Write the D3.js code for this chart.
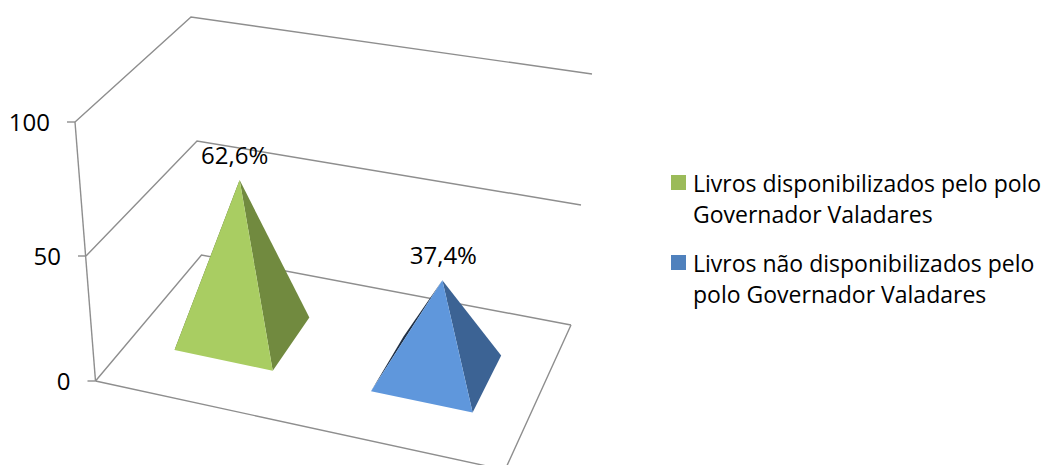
<!DOCTYPE html>
<html>
<head>
<meta charset="utf-8">
<script src="https://cdn.jsdelivr.net/npm/d3@7"></script>
<style>
html, body { margin: 0; padding: 0; background: #fff; overflow: hidden; }
svg { display: block; }
text { font-family: "Open Sans", sans-serif; fill: #000; }
</style>
</head>
<body>
<svg></svg>
<script>
const categories = ["Livros disponibilizados pelo polo Governador Valadares", "Livros não disponibilizados pelo polo Governador Valadares"];
const values = [62.6, 37.4];
const valueLabels = ["62,6%", "37,4%"];
const tickValues = [0, 50, 100];
const legendLines = [
	["Livros disponibilizados pelo polo", "Governador Valadares"],
	["Livros não disponibilizados pelo", "polo Governador Valadares"]
];

var svgWidth = 1046, svgHeight = 465;

var svg = d3.select("svg")
	.attr("width", svgWidth)
	.attr("height", svgHeight);

// the 3d box: where the value axis lands on each of the 4 upright edges
var edge = {
	frontLeft: { x: [95.5, 86, 75], y: [381, 256, 122] },
	backLeft: { x: [201.5, 197, 191], y: [255, 141, 17] },
	backRight: { x: [571, 581, 592], y: [325, 205, 74] },
	frontRight: { x: [505, 519, 533], y: [470, 335, 190] }
};

function edgeScale(range) {
	return d3.scaleLinear().domain(tickValues).range(range);
}

for (var k in edge) {
	edge[k].sx = edgeScale(edge[k].x);
	edge[k].sy = edgeScale(edge[k].y);
}

// u runs along the categories, d runs front to back
var u = d3.scaleBand()
	.domain(categories)
	.range([-0.01, 0.98])
	.paddingInner(0.5)
	.paddingOuter(0.25);

var d = d3.scaleLinear().domain([0, 1]).range([0.32, 0.72]);

// things further right come out a bit wider in the perspective
var warp = d3.scaleLinear().domain([0, 0.6, 0.86, 1]).range([0, 0.6, 0.869, 1]);

function project(uu, dd, v) {
	var lx = d3.interpolateNumber(edge.frontLeft.sx(v), edge.backLeft.sx(v))(dd);
	var ly = d3.interpolateNumber(edge.frontLeft.sy(v), edge.backLeft.sy(v))(dd);
	var rx = d3.interpolateNumber(edge.frontRight.sx(v), edge.backRight.sx(v))(dd);
	var ry = d3.interpolateNumber(edge.frontRight.sy(v), edge.backRight.sy(v))(dd);
	var w = warp(uu);
	return [lx + (rx - lx) * w, ly + (ry - ly) * w];
}

var line = d3.line();
var gridColor = "#8e8e8e";

var grid = svg.append("g")
	.attr("fill", "none")
	.attr("stroke", gridColor)
	.attr("stroke-width", 1.4);

// gridlines on left wall and back wall
tickValues.forEach(function(t) {
	grid.append("path").attr("d", line([
		project(0, 0, t),
		project(0, 1, t),
		project(1, 1, t)
	]));
	// tick mark
	var p = project(0, 0, t);
	grid.append("path").attr("d", line([[p[0] - 8, p[1]], p]));
});

// front and right floor edges, and the axis line
grid.append("path").attr("d", line([project(0, 0, 0), project(1, 0, 0), project(1, 1, 0)]));
grid.append("path").attr("d", line([project(0, 0, 0), project(0, 0, 100)]));

var axisLabels = svg.append("g")
	.attr("font-size", 24)
	.attr("text-anchor", "end");

tickValues.forEach(function(t) {
	var p = project(0, 0, t);
	axisLabels.append("text")
		.attr("x", p[0] - 25)
		.attr("y", p[1] + 9)
		.text(t);
});

var colors = [
	{ front: "#a9cd62", side: "#718a3f", dark: "#4f612c" },
	{ front: "#5f97dc", side: "#3c6394", dark: "#1f2f45" }
];

var pyramids = svg.append("g")
	.selectAll("g")
	.data(categories)
	.join("g");

pyramids.each(function(c, i) {
	var g = d3.select(this);
	var u0 = u(c), u1 = u(c) + u.bandwidth();
	var apex = project((u0 + u1) / 2, d(0.5), values[i]);
	var fl = project(u0, d(0), 0);
	var fr = project(u1, d(0), 0);
	var br = project(u1, d(1), 0);
	var bl = project(u0, d(1), 0);

	g.append("path").attr("fill", colors[i].dark).attr("d", line([apex, fl, bl]) + "Z");
	g.append("path").attr("fill", colors[i].side).attr("d", line([apex, fr, br]) + "Z");
	g.append("path").attr("fill", colors[i].front).attr("d", line([apex, fl, fr]) + "Z");

	svg.append("text")
		.attr("x", apex[0] - 5 + i * 6)
		.attr("y", apex[1] - 16)
		.attr("font-size", 24)
		.attr("text-anchor", "middle")
		.text(valueLabels[i]);
});

// legend
var legendColors = ["#9bbb59", "#4f81bd"];
var legendTop = [175, 255];

var legend = svg.append("g")
	.selectAll("g")
	.data(legendLines)
	.join("g")
	.attr("transform", function(l, i) { return "translate(671," + legendTop[i] + ")"; });

legend.append("rect")
	.attr("width", 15)
	.attr("height", 15)
	.attr("fill", function(l, i) { return legendColors[i]; });

legend.each(function(l) {
	d3.select(this).selectAll("text")
		.data(l)
		.join("text")
		.attr("x", 22)
		.attr("y", function(s, j) { return 17 + j * 31; })
		.attr("font-size", 23)
		.text(function(s) { return s; });
});
</script>
</body>
</html>
